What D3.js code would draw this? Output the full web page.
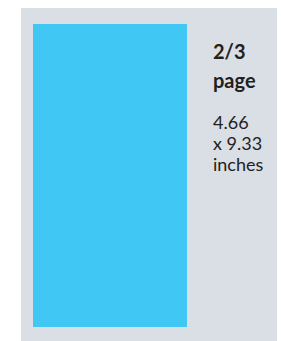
<!DOCTYPE html>
<html>

<head>
    <meta charset="utf-8" />
    <title>Ad size</title>
    <script type="text/javascript" src="https://cdn.jsdelivr.net/npm/d3@7"></script>
    <style>
        body { margin: 0; background: #fff; }
    </style>
</head>

<body>
    <script type="text/javascript">
        // ad size in inches
        var sizeWidth = [4.66],
            sizeHeight = [9.33],
            titleLines = ["2/3", "page"],
            sizeLines = ["4.66", "x 9.33", "inches"];

        var width = 281,
            height = 341;

        var svg = d3.select("body")
            .append("svg")
            .attr("width", width)
            .attr("height", height);

        // background panel
        svg.append("rect")
            .attr("x", 21)
            .attr("y", 8)
            .attr("width", 256)
            .attr("height", 333)
            .attr("fill", "#dadee5");

        var x = d3.scaleLinear().domain([0, sizeWidth[0]]).range([33, 187]);
        var y = d3.scaleLinear().domain([0, sizeHeight[0]]).range([24, 327]);

        svg.selectAll("rect.size")
            .data(sizeWidth)
            .enter().append("rect")
            .attr("class", "size")
            .attr("x", x(0))
            .attr("y", y(0))
            .attr("width", (d) => x(d) - x(0))
            .attr("height", (d, i) => y(sizeHeight[i]) - y(0))
            .attr("fill", "#41c7f4");

        svg.selectAll("text.title")
            .data(titleLines)
            .enter().append("text")
            .attr("class", "title")
            .attr("x", 213)
            .attr("y", (d, i) => 59 + i * 29)
            .attr("font-family", "Lato")
            .attr("font-weight", "bold")
            .attr("font-size", "20px")
            .attr("fill", "#231f20")
            .text((d) => d);

        svg.selectAll("text.dims")
            .data(sizeLines)
            .enter().append("text")
            .attr("class", "dims")
            .attr("x", 213)
            .attr("y", (d, i) => 129 + i * 21)
            .attr("font-family", "Lato")
            .attr("font-size", "18px")
            .attr("fill", "#231f20")
            .text((d) => d);
    </script>
</body>

</html>
